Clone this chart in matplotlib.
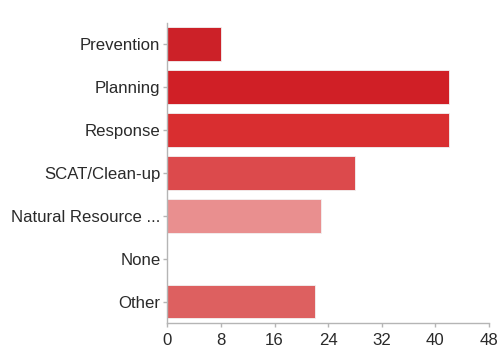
import matplotlib
matplotlib.use('Agg')
import matplotlib.pyplot as plt

categories = ['Prevention', 'Planning', 'Response', 'SCAT/Clean-up',
              'Natural Resource ...', 'None', 'Other']
counts = [8, 42, 42, 28, 23, 0, 22]
colours = ['#cc2128', '#d01f26', '#d92e30', '#dc4a4c', '#e98f8f', '#e06a6a',
           '#dd6060']
xticks = [0, 8, 16, 24, 32, 40, 48]

plt.rcParams['font.family'] = ['Liberation Sans', 'DejaVu Sans']

fig = plt.figure(figsize=(5.01, 3.48), dpi=100)
ax = fig.add_axes([0.334, 0.072, 0.642, 0.862])

ypos = list(range(len(categories)))
ax.barh(ypos, counts, height=0.79, color=colours, edgecolor='#f2f2f2',
        linewidth=0.6)
ax.set_ylim(len(categories) - 0.5, -0.5)
ax.set_xlim(0, 48)
ax.set_yticks(ypos)
ax.set_yticklabels(categories)
ax.set_xticks(xticks)

for side in ['top', 'right']:
    ax.spines[side].set_visible(False)
for side in ['left', 'bottom']:
    ax.spines[side].set_color('#b5b5b5')
    ax.spines[side].set_linewidth(1.0)
ax.tick_params(axis='both', colors='#b5b5b5', labelcolor='#2a2a2a',
               labelsize=12.1, length=3, width=1.0)
ax.tick_params(axis='y', pad=2)
ax.tick_params(axis='x', pad=4)

fig.savefig('out.png', dpi=100)
